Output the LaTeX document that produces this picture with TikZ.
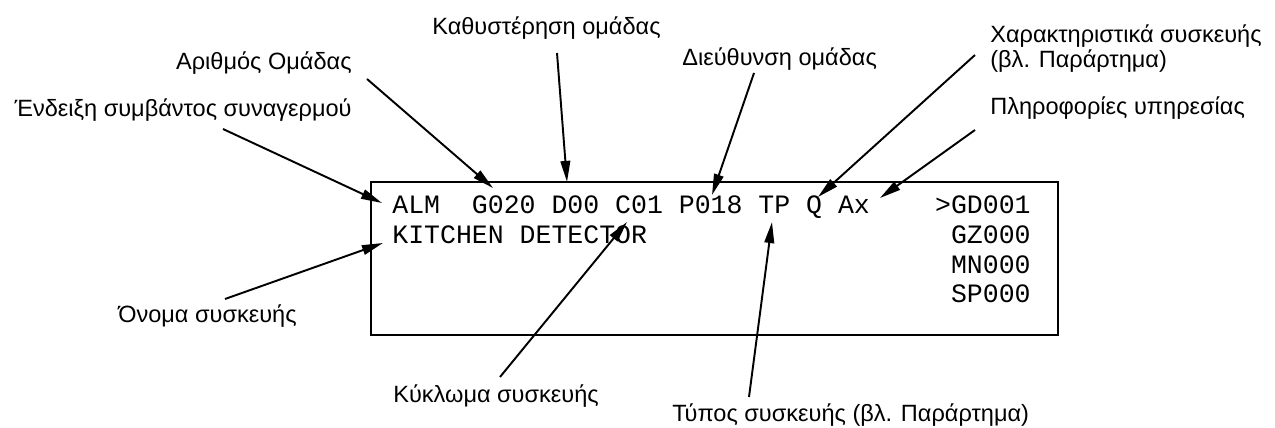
\documentclass[tikz,border=0pt]{standalone}
\usepackage{fontspec}
\setmainfont{Liberation Sans}
\setmonofont{Liberation Mono}
\usetikzlibrary{arrows.meta}

\begin{document}
\begin{tikzpicture}[x=0.02cm,y=-0.02cm,
  lbl/.style={font=\fontsize{13.4}{14.2}\selectfont,inner sep=0pt},
  lcd/.style={font=\ttfamily\fontsize{15.1}{18}\selectfont,inner sep=0pt},
  pointer/.style={line width=1.1pt,-{Triangle[length=12pt,width=5.5pt]}}]
 \useasboundingbox (0,0) rectangle (1275,428);
 % display frame
 \draw[line width=1.1pt] (371,182) rectangle (1058,335);
 \node[lcd,anchor=base west] (row1) at (392,214) {ALM\ \ G020 D00 C01 P018 TP Q Ax};
 \node[lcd,anchor=base west] (row2) at (392,244) {KITCHEN DETECTOR};
 \foreach \t/\y [count=\i] in {>GD001/214, GZ000/244, MN000/274, SP000/303}
  {
    \node[lcd,anchor=base east] (side\i) at (1031,\y) {\t};
  }
 % labels
 \node[lbl,anchor=base east] (event) at (352,117) {Ένδειξη συμβάντος συναγερμού};
 \node[lbl,anchor=base east] (grpnum) at (352,70) {Αριθμός Ομάδας};
 \node[lbl,anchor=base west] (grpdelay) at (432,35) {Καθυστέρηση ομάδας};
 \node[lbl,anchor=base west] (grpaddr) at (682,66) {Διεύθυνση ομάδας};
 \node[lbl,anchor=north west,align=left] (devattr) at (990,24.5) {Χαρακτηριστικά συσκευής\\(βλ. Παράρτημα)};
 \node[lbl,anchor=base west] (service) at (990,115) {Πληροφορίες υπηρεσίας};
 \node[lbl,anchor=base west] (devname) at (118,323) {Όνομα συσκευής};
 \node[lbl,anchor=base west] (loop) at (393,403) {Κύκλωμα συσκευής};
 \node[lbl,anchor=base west] (devtype) at (672,422) {Τύπος συσκευής (βλ. Παράρτημα)};
 % arrow ends
 \coordinate (event-s) at (223,129);    \coordinate (event-t) at (382,203);
 \coordinate (grpnum-s) at (367,79);    \coordinate (grpnum-t) at (493,188);
 \coordinate (grpdelay-s) at (557,53);  \coordinate (grpdelay-t) at (567,182);
 \coordinate (grpaddr-s) at (754,73);   \coordinate (grpaddr-t) at (712,195);
 \coordinate (devattr-s) at (975,55);   \coordinate (devattr-t) at (818,197);
 \coordinate (service-s) at (975,130);  \coordinate (service-t) at (880,198);
 \coordinate (devname-s) at (225,299);  \coordinate (devname-t) at (383,243);
 \coordinate (loop-s) at (500,377);     \coordinate (loop-t) at (627,222);
 \coordinate (devtype-s) at (749,397);  \coordinate (devtype-t) at (772,222);
 \foreach \a in {event,grpnum,grpdelay,grpaddr,devattr,service,devname,loop,devtype}
  {
    \draw[pointer] (\a-s) -- (\a-t);
  }
\end{tikzpicture}
\end{document}
